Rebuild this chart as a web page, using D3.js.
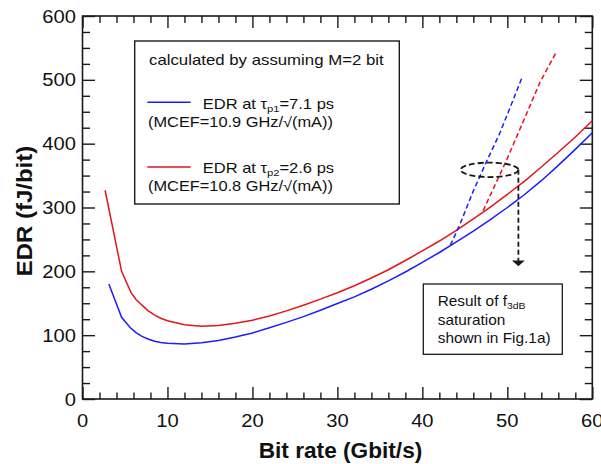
<!DOCTYPE html>
<html>
<head>
<meta charset="utf-8">
<script src="https://cdn.jsdelivr.net/npm/d3@7.9.0/dist/d3.min.js"></script>
<style>
html, body { margin: 0; padding: 0; background: #fff; }
svg { display: block; font-family: "Liberation Sans", Arial, Helvetica, sans-serif; }
</style>
</head>
<body>
<div id="chart"></div>
<script>
// Curve data (bit rate in Gbit/s, EDR in fJ/bit)
const blueRate = [3.1, 4.6, 5.6, 6.3, 7, 7.7, 8.5, 9.2, 10, 12, 14, 16, 18, 20, 22, 24, 26, 28, 30, 32, 34, 36, 38, 40, 42, 44, 46, 48, 50, 52, 54, 56, 58, 60];
const blueEDR  = [180, 128, 112, 104, 98, 94, 90.5, 88.6, 87.3, 86, 88, 91.5, 97, 103.5, 111.5, 120, 129, 139, 149.5, 160, 172, 185, 199, 214, 229.5, 246, 263, 281, 300, 320, 342, 366, 391, 417];

const redRate = [2.66, 4.6, 5.7, 6.3, 7, 7.7, 8.5, 9.2, 10, 12, 14, 16, 18, 20, 22, 24, 26, 28, 30, 32, 34, 36, 38, 40, 42, 44, 46, 48, 50, 52, 54, 56, 58, 60];
const redEDR  = [327, 200, 167, 156, 147, 138.5, 131.5, 126.5, 122.5, 116.5, 114, 115, 118.5, 123.5, 130, 138, 147, 156.5, 166.5, 177.5, 189.5, 202.5, 217, 232, 247.5, 264, 282, 300.5, 320.5, 341, 363.5, 386.5, 410.5, 436];

// f3dB saturation branches (dashed)
const blueSatRate = [43.3, 44.4, 46.0, 47.55, 49.1, 50.7, 51.8];
const blueSatEDR  = [241, 273, 326, 372, 416, 469, 506];
const redSatRate  = [47.15, 49.9, 52.3, 53.8, 55.7];
const redSatEDR   = [295, 374, 448, 495, 542];

// Axis ticks
const xMajor = [0, 10, 20, 30, 40, 50, 60];
const xTickLabels = ["0", "10", "20", "30", "40", "50", "60"];
const yMajor = [0, 100, 200, 300, 400, 500, 600];
const yTickLabels = ["0", "100", "200", "300", "400", "500", "600"];
const xMinor = d3.range(0, 61, 2).filter(v => v % 10 !== 0);
const yMinor = d3.range(0, 601, 25).filter(v => v % 100 !== 0);

// Annotation (ellipse around the saturation points, arrow to the note)
const ellipseCenter = [47.9, 359];
const ellipseRadius = [3.4, 11.3];
const arrowEndEDR = 208;

const BLUE = "#1d1dfb";
const RED = "#e5141b";
const INK = "#1a1a1a";

const width = 601, height = 464;
const plot = { left: 82.5, right: 592.3, top: 16, bottom: 399 };

const svg = d3.select("#chart").append("svg")
    .attr("width", width)
    .attr("height", height)
    .attr("viewBox", `0 0 ${width} ${height}`);

const x = d3.scaleLinear().domain([0, 60]).range([plot.left, plot.right]);
const y = d3.scaleLinear().domain([0, 600]).range([plot.bottom, plot.top]);

// text helper: the original glyphs are a bit wider than Liberation Sans
function label(g, px, py, str, size, sx, anchor = "start", weight = "normal") {
    return g.append("text")
        .attr("transform", `translate(${px},${py}) scale(${sx},1)`)
        .attr("font-size", size)
        .attr("font-weight", weight)
        .attr("text-anchor", anchor)
        .attr("fill", "#111")
        .text(str);
}

// ticks on all four sides, pointing inward
function ticks(axis, vals, size, transform) {
    const g = svg.append("g")
        .attr("transform", transform)
        .call(axis.tickValues(vals).tickSize(-size).tickFormat(""));
    g.select(".domain").remove();
    g.selectAll(".tick line").attr("stroke", INK).attr("stroke-width", 1.4);
}
ticks(d3.axisBottom(x), xMajor, 12, `translate(0,${plot.bottom})`);
ticks(d3.axisBottom(x), xMinor, 6.5, `translate(0,${plot.bottom})`);
ticks(d3.axisTop(x), xMajor, 12, `translate(0,${plot.top})`);
ticks(d3.axisTop(x), xMinor, 7, `translate(0,${plot.top})`);
ticks(d3.axisLeft(y), yMajor, 12.5, `translate(${plot.left},0)`);
ticks(d3.axisLeft(y), yMinor, 7.5, `translate(${plot.left},0)`);
ticks(d3.axisRight(y), yMajor, 12.5, `translate(${plot.right},0)`);
ticks(d3.axisRight(y), yMinor, 7.5, `translate(${plot.right},0)`);

// frame
svg.append("rect")
    .attr("x", plot.left).attr("y", plot.top)
    .attr("width", plot.right - plot.left)
    .attr("height", plot.bottom - plot.top)
    .attr("fill", "none")
    .attr("stroke", INK)
    .attr("stroke-width", 1.6);

// tick labels
const tl = svg.append("g");
xMajor.forEach((v, i) => label(tl, x(v), plot.bottom + 27.7, xTickLabels[i], 18, 1.12, "middle"));
yMajor.forEach((v, i) => label(tl, plot.left - 6.5, y(v) + 6.6, yTickLabels[i], 18, 1.12, "end"));

// axis titles
label(svg, 340.5, 458.3, "Bit rate (Gbit/s)", 22, 1.03, "middle", "bold");
svg.append("text")
    .attr("transform", `translate(32.3,211) rotate(-90) scale(1.09,1)`)
    .attr("font-size", 22)
    .attr("font-weight", "bold")
    .attr("text-anchor", "middle")
    .attr("fill", "#111")
    .text("EDR (fJ/bit)");

// curves
const line = d3.line().x(d => x(d[0])).y(d => y(d[1]));
const zip = (a, b) => a.map((v, i) => [v, b[i]]);

const curves = svg.append("g").attr("fill", "none").attr("stroke-width", 1.5);
curves.append("path").attr("d", line(zip(blueRate, blueEDR))).attr("stroke", BLUE);
curves.append("path").attr("d", line(zip(redRate, redEDR))).attr("stroke", RED);
curves.append("path").attr("d", line(zip(blueSatRate, blueSatEDR)))
    .attr("stroke", BLUE).attr("stroke-dasharray", "5,3");
curves.append("path").attr("d", line(zip(redSatRate, redSatEDR)))
    .attr("stroke", RED).attr("stroke-dasharray", "5,3");

// ellipse + dashed arrow
const ecx = x(ellipseCenter[0]), ecy = y(ellipseCenter[1]);
const erx = x(ellipseCenter[0] + ellipseRadius[0]) - ecx;
const ery = y(ellipseCenter[1] - ellipseRadius[1]) - ecy;
svg.append("ellipse")
    .attr("cx", ecx).attr("cy", ecy).attr("rx", erx).attr("ry", ery)
    .attr("fill", "none").attr("stroke", INK)
    .attr("stroke-width", 1.8).attr("stroke-dasharray", "6,3");

const ax = ecx + erx, tipY = y(arrowEndEDR);
svg.append("line")
    .attr("x1", ax).attr("x2", ax)
    .attr("y1", ecy).attr("y2", tipY - 5)
    .attr("stroke", INK).attr("stroke-width", 1.8)
    .attr("stroke-dasharray", "5,3");
svg.append("path")
    .attr("d", `M${ax - 6.4},${tipY - 5.8} L${ax + 6.4},${tipY - 5.8} L${ax},${tipY} Z`)
    .attr("fill", INK);

// legend box
const lg = svg.append("g");
lg.append("rect")
    .attr("x", 134.7).attr("y", 41).attr("width", 264.6).attr("height", 163)
    .attr("fill", "#fff").attr("stroke", INK).attr("stroke-width", 1.4);
label(lg, 149, 65, "calculated by assuming M=2 bit", 14, 1.2);

function legendEntry(yLine, color, sub, rest, mcef) {
    lg.append("line")
        .attr("x1", 147.3).attr("x2", 190.7)
        .attr("y1", yLine).attr("y2", yLine)
        .attr("stroke", color).attr("stroke-width", 1.5);
    const t = label(lg, 202.7, yLine + 6.4, "EDR at τ", 14, 1.18);
    t.append("tspan").attr("font-size", 9.5).attr("dy", 3).text(sub);
    t.append("tspan").attr("dy", -3).text(rest);
    label(lg, 148, yLine + 24.4, mcef, 14, 1.17);
}
legendEntry(102.3, BLUE, "p1", "=7.1 ps", "(MCEF=10.9 GHz/√(mA))");
legendEntry(167.0, RED, "p2", "=2.6 ps", "(MCEF=10.8 GHz/√(mA))");

// note box
const nb = svg.append("g");
nb.append("rect")
    .attr("x", 423.3).attr("y", 284).attr("width", 139).attr("height", 70.3)
    .attr("fill", "#fff").attr("stroke", INK).attr("stroke-width", 1.3);
const n1 = label(nb, 437.7, 306, "Result of f", 14, 1.1);
n1.append("tspan").attr("font-size", 9.5).attr("dy", 3).text("3dB");
label(nb, 437.7, 324.5, "saturation", 14, 1.1);
label(nb, 437.7, 343, "shown in Fig.1a)", 14, 1.1);
</script>
</body>
</html>
